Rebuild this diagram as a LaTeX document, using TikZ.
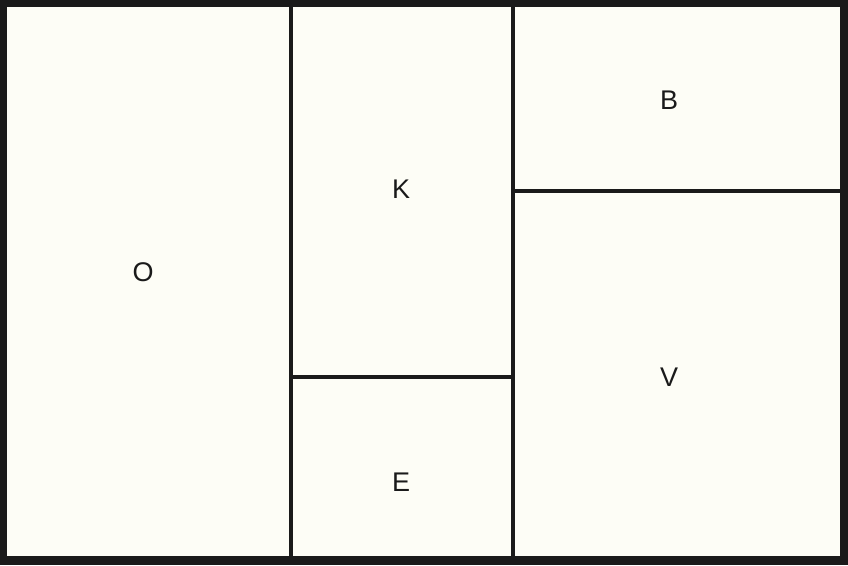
\documentclass[tikz,border=0pt]{standalone}
\usepackage{fontspec}
\setmainfont{Liberation Sans}
\definecolor{ink}{HTML}{1A1A1A}
\definecolor{paper}{HTML}{FDFDF6}
\begin{document}
\begin{tikzpicture}[x=1pt,y=-1pt,
  divider/.style={draw=ink,line width=4pt},
  label/.style={font=\fontsize{27}{30}\selectfont,text=ink,inner sep=0pt}]
\useasboundingbox (0,0) rectangle (848,565);
\fill[ink] (0,0) rectangle (848,565);
\fill[paper] (7,7) rectangle (840,556);
\draw[divider] (291,7) -- (291,556);
\draw[divider] (513,7) -- (513,556);
\draw[divider] (291,377) -- (513,377);
\draw[divider] (513,191) -- (840,191);
\node[label] (o) at (143,272) {O};
\node[label] (k) at (401,189) {K};
\node[label] (e) at (401,482) {E};
\node[label] (b) at (669,100) {B};
\node[label] (v) at (669,377) {V};
\end{tikzpicture}
\end{document}
